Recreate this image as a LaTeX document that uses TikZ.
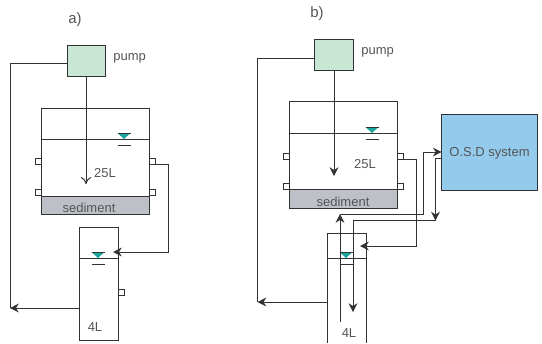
\documentclass[tikz,border=0pt]{standalone}
\usepackage{fontspec}
\setmainfont{Liberation Sans}
\usetikzlibrary{arrows,arrows.meta}
\usetikzlibrary{calc}
\definecolor{pumpgreen}{RGB}{200,230,212}
\definecolor{osdblue}{RGB}{148,203,236}
\definecolor{sedgray}{RGB}{190,192,200}
\definecolor{waterteal}{RGB}{25,165,155}
\definecolor{linegray}{RGB}{50,50,50}
\definecolor{textgray}{RGB}{85,85,85}
\tikzset{
    pipe/.style={draw=linegray, line width=0.55pt},
    flow/.style={pipe, -{Stealth[length=5pt,width=5pt]}},
    tank/.style={pipe, anchor=north west, inner sep=0pt, outer sep=0pt},
    port/.style={pipe, fill=white, anchor=north west, inner sep=0pt, outer sep=0pt, minimum width=0.12cm, minimum height=0.12cm},
    label/.style={text=textgray, font=\fontsize{7.4}{9}\selectfont, inner sep=0pt},
}

\begin{document}
\begin{tikzpicture}[x=0.02cm, y=-0.02cm, linegray]

    \useasboundingbox (0,0) rectangle (542,343);

    % panel a
    \node[label, font=\fontsize{8.5}{10}\selectfont] (titlea) at (75,20) {a)};
    \node[tank, fill=pumpgreen, minimum width=0.76cm, minimum height=0.63cm] (pumpa) at (67,45) {};
    \node[label, anchor=west] (pumplabela) at (113,58) {pump};
    \node[tank, minimum width=2.16cm, minimum height=2.12cm] (tanka) at (41.5,108) {};
    \node[tank, fill=sedgray, minimum width=2.16cm, minimum height=0.37cm] (seda) at (41.5,196) {};
    \node[label] (sedlabela) at (89,208) {sediment};
    \node[label] (vola) at (105,173) {25L};
    \node[port] (portla) at (35,158) {};
    \node[port] (portlb) at (35,189) {};
    \node[port] (portra) at (149.5,158) {};
    \node[port] (portrb) at (149.5,189) {};
    \node[tank, minimum width=0.77cm, minimum height=2.26cm] (smalla) at (79.5,227) {};
    \node[port] (portsa) at (118,289) {};
    \node[label] (smallvola) at (95,327) {4L};
    \draw[pipe] (tanka.west |- 0,139) -- (tanka.east |- 0,139);
    \draw[pipe] (smalla.west |- 0,258) -- (smalla.east |- 0,258);

    \coordinate (pumpenda) at (86,184);
    \coordinate (returna) at (10,63);
    \coordinate (returnenda) at (10,308);
    \coordinate (benda) at (168.5,252);
    \coordinate (inleta) at (113,252);
    \draw[pipe, -{To[length=4pt,width=6pt]}] (pumpa.south -| pumpenda) -- (pumpenda);
    \draw[pipe] (pumpa.west |- returna) -- (returna) -- (returnenda);
    \draw[flow] (smalla.west |- returnenda) -- (returnenda);
    \draw[flow] (portra.south east) -| (benda) -- (inleta);

    % panel b
    \node[label, font=\fontsize{8.5}{10}\selectfont] (titleb) at (317,14) {b)};
    \node[tank, fill=pumpgreen, minimum width=0.77cm, minimum height=0.62cm] (pumpb) at (314.5,39) {};
    \node[label, anchor=west] (pumplabelb) at (361,52) {pump};
    \node[tank, minimum width=2.17cm, minimum height=2.13cm] (tankb) at (289.5,101.5) {};
    \node[tank, fill=sedgray, minimum width=2.17cm, minimum height=0.37cm] (sedb) at (289.5,189.5) {};
    \node[label] (sedlabelb) at (343,202) {sediment};
    \node[label] (volb) at (365,164) {25L};
    \node[port] (portlc) at (283,153) {};
    \node[port] (portld) at (283,183) {};
    \node[port] (portrc) at (397.5,153) {};
    \node[port] (portrd) at (397.5,183) {};
    \node[tank, draw=none, minimum width=0.77cm, minimum height=2.2cm] (smallb) at (327.5,233) {};
    \node[tank, fill=osdblue, minimum width=1.92cm, minimum height=1.51cm] (osd) at (441.7,114.5) {};
    \node[label] (osdlabel) at (489.5,153) {O.S.D system};
    \node[label] (smallvolb) at (349,333) {4L};
    \draw[pipe] (smallb.south west) |- (smallb.north east) -- (smallb.south east);
    \draw[pipe] (tankb.west |- 0,133) -- (tankb.east |- 0,133);
    \draw[pipe] (smallb.west |- 0,258) -- (smallb.east |- 0,258);

    \coordinate (pumpendb) at (334,176);
    \coordinate (returnb) at (257.5,58);
    \coordinate (returnendb) at (257.5,302);
    \coordinate (bendb) at (416.5,246);
    \coordinate (inletb) at (360,246);
    \coordinate (supplystart) at (340,322);
    \coordinate (supplybend) at (340,214);
    \coordinate (supplycorner) at (423.5,214);
    \coordinate (supplytop) at (423.5,152);
    \coordinate (drainstart) at (435.5,158);
    \coordinate (drainbend) at (435.5,220.5);
    \coordinate (drainend) at (353,312);
    \draw[flow] (pumpb.south -| pumpendb) -- (pumpendb);
    \draw[pipe] (pumpb.west |- returnb) -- (returnb) -- (returnendb);
    \draw[flow] (smallb.west |- returnendb) -- (returnendb);
    \draw[flow] (portrc.south east) -| (bendb) -- (inletb);
    \draw[flow] (supplystart) -- (supplybend);
    \draw[pipe] (supplybend) -- (supplycorner) -- (supplytop);
    \draw[flow] (supplytop) -- (osd.west |- supplytop);
    \draw[flow] (osd.west |- drainstart) -- (drainstart) -- (drainbend);
    \draw[pipe] (drainbend) -- (drainend |- drainbend);
    \draw[flow] (drainend |- drainbend) -- (drainend);

    % water level marks
    \foreach \x/\y in {124/139, 98/258, 372/133, 346/258} {
        \fill[waterteal] (\x-6.5,\y-6) -- (\x+6.5,\y-6) -- (\x,\y) -- cycle;
        \draw[pipe] (\x-6.5,\y-6) -- (\x+6.5,\y-6);
        \draw[pipe] (\x-6.5,\y+6.5) -- (\x+6.5,\y+6.5);
    }

\end{tikzpicture}
\end{document}
